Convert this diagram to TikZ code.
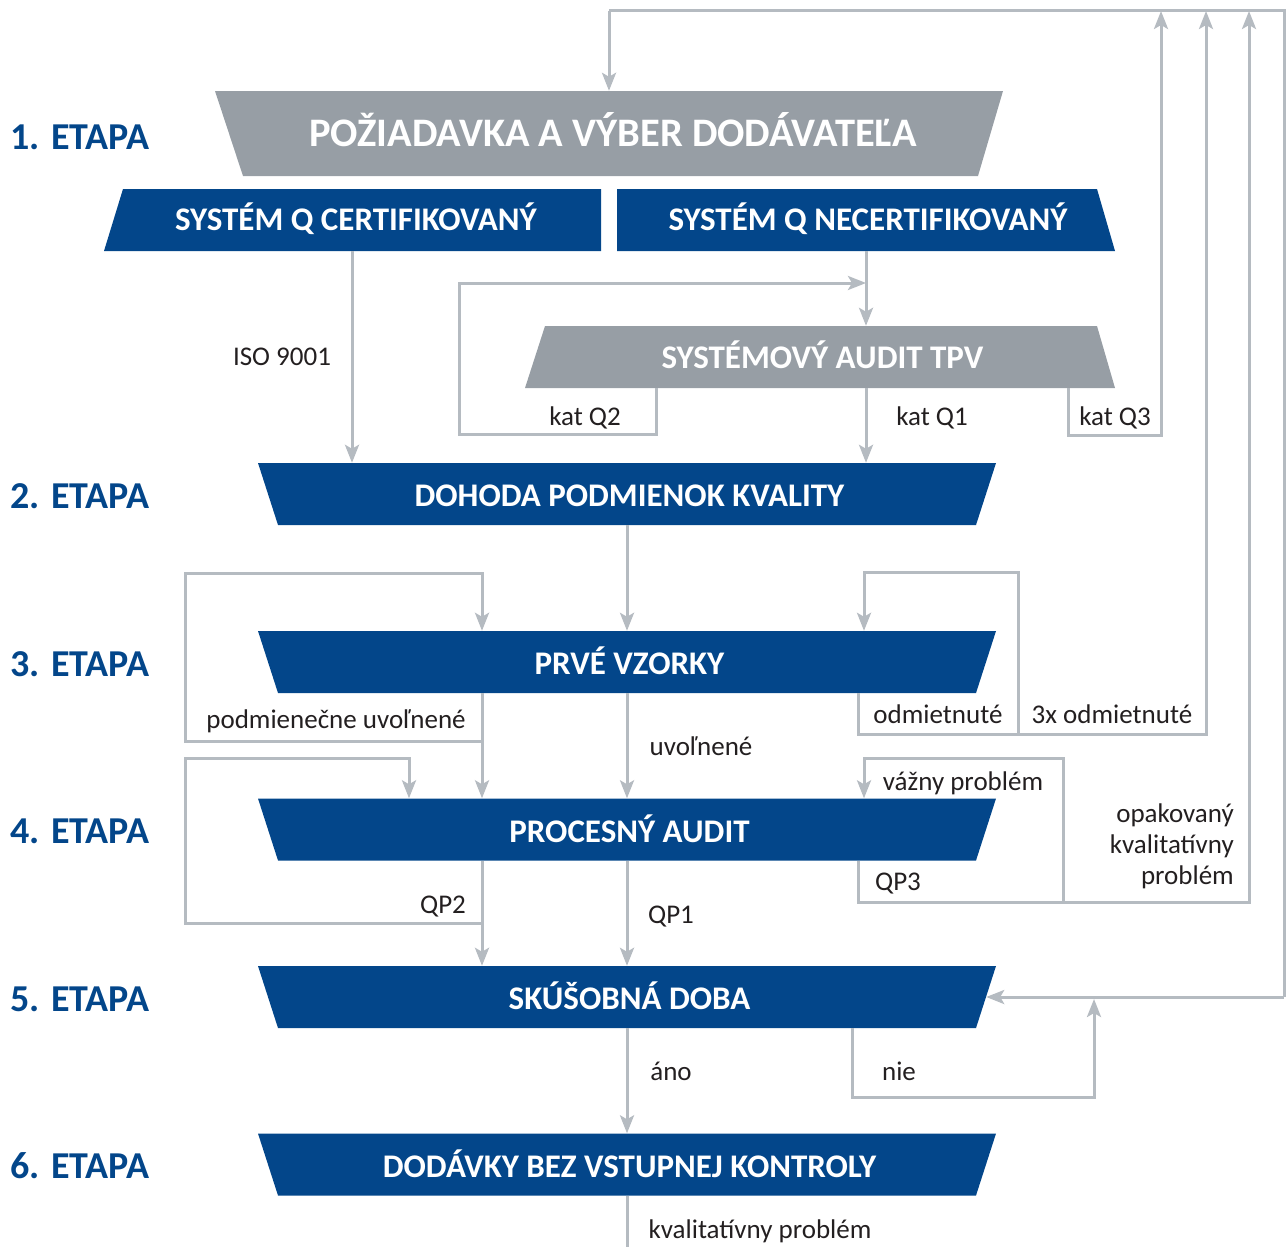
\documentclass[tikz,border=0pt]{standalone}
\usepackage{fontspec}
\setmainfont{Carlito}
\usetikzlibrary{arrows.meta}
\definecolor{qblue}{HTML}{03468A}
\definecolor{qgray}{HTML}{979EA5}
\definecolor{qline}{HTML}{B5BBC1}
\definecolor{qtext}{HTML}{231F20}
\tikzset{
  conn/.style={draw=qline, line width=3pt},
  arr/.style={conn, -{Stealth[length=18pt,width=14pt,inset=4pt]}},
  boxtext/.style={text=white, font=\bfseries\fontsize{33}{36}\selectfont, inner sep=0pt, text height=21pt, text depth=0pt},
  lbl/.style={text=qtext, font=\fontsize{27}{31}\selectfont, inner sep=0pt, anchor=base},
  etapa/.style={text=qblue, font=\bfseries\fontsize{38}{41}\selectfont, inner sep=0pt, anchor=base west},
}
\newcommand\stagebox[3]{%
  \fill[qblue] (258,#2-31) -- (996,#2-31) -- (976,#2+31) -- (278,#2+31) -- cycle;
  \node[boxtext, text height=25pt, minimum width=738pt, minimum height=62pt] (#1) at (627,#2) {\hspace*{5pt}#3};
}
\begin{document}
\begin{tikzpicture}[x=1pt,y=-1pt]
\useasboundingbox (0,0) rectangle (1287,1247);

% ---- boxes ----
\fill[qgray] (215,91) -- (1003,91) -- (978,176) -- (243,176) -- cycle;
\node[text=white, font=\bfseries\fontsize{40.5}{44}\selectfont, inner sep=0pt, minimum width=788pt, minimum height=85pt, text height=26pt, text depth=0pt] (ziad) at (609,133.5) {\hspace*{8pt}POŽIADAVKA A VÝBER DODÁVATEĽA};

\fill[qblue] (123,189) -- (601,189) -- (601,251) -- (104,251) -- cycle;
\node[boxtext, minimum width=497pt, minimum height=62pt] (cert) at (354,220) {\hspace*{4pt}SYSTÉM Q CERTIFIKOVANÝ};

\fill[qblue] (617,189) -- (1097,189) -- (1115,251) -- (617,251) -- cycle;
\node[boxtext, minimum width=498pt, minimum height=62pt] (necert) at (866,220) {\hspace*{4pt}SYSTÉM Q NECERTIFIKOVANÝ};

\fill[qgray] (545,326) -- (1097,326) -- (1115,388) -- (525,388) -- cycle;
\node[boxtext, text height=23pt, minimum width=590pt, minimum height=62pt] (audit) at (820,357) {\hspace*{5pt}SYSTÉMOVÝ AUDIT TPV};

\stagebox{dohoda}{494}{DOHODA PODMIENOK KVALITY}
\stagebox{prve}{662}{PRVÉ VZORKY}
\stagebox{proc}{829.5}{PROCESNÝ AUDIT}
\stagebox{skusob}{997}{SKÚŠOBNÁ DOBA}
\stagebox{dodavky}{1164.5}{DODÁVKY BEZ VSTUPNEJ KONTROLY}

% ---- stage labels ----
\node[etapa] (e1) at (10,149) {1. ETAPA};
\node[etapa] (e2) at (10,508) {2. ETAPA};
\node[etapa] (e3) at (10,676) {3. ETAPA};
\node[etapa] (e4) at (10,843) {4. ETAPA};
\node[etapa] (e5) at (10,1011) {5. ETAPA};
\node[etapa] (e6) at (10,1178) {6. ETAPA};

% ---- connectors ----
\coordinate (topR) at (1284,11);
\coordinate (topL) at (609,11);
\draw[conn] (topL) -- (topR) -- (1284,997);
\draw[arr] (topL) -- (ziad.north);
\draw[arr] (1284,997) -- ([xshift=-10pt]skusob.east);

\draw[arr] (352,0 |- cert.south) -- (352,0 |- dohoda.north);
\draw[arr] (necert.south) -- (necert.south |- audit.north);

\draw[arr] (656,0 |- audit.south) -- (656,434) -- (459,434) -- (459,283) -- (866,283);
\draw[arr] (866,0 |- audit.south) -- (866,0 |- dohoda.north);
\draw[arr] (1068,0 |- audit.south) -- (1068,435) -- (1161,435) -- (1161,11);

\draw[arr] (dohoda.south) -- (prve.north);
\draw[arr] (482,0 |- prve.south) -- (482,0 |- proc.north);
\draw[arr] (482,741) -- (185,741) -- (185,573) -- (482,573) -- (482,0 |- prve.north);
\draw[arr] (prve.south) -- (proc.north);
\draw[arr] (858,0 |- prve.south) -- (858,734) -- (1206,734) -- (1206,11);
\draw[arr] (1018,734) -- (1018,572) -- (864,572) -- (864,0 |- prve.north);

\draw[arr] (482,0 |- proc.south) -- (482,0 |- skusob.north);
\draw[arr] (482,923) -- (185,923) -- (185,758) -- (409,758) -- (409,0 |- proc.north);
\draw[arr] (proc.south) -- (skusob.north);
\draw[arr] (858,0 |- proc.south) -- (858,902) -- (1249,902) -- (1249,11);
\draw[arr] (1063,902) -- (1063,758) -- (864,758) -- (864,0 |- proc.north);

\draw[arr] (skusob.south) -- (dodavky.north);
\draw[arr] (852,0 |- skusob.south) -- (852,1097) -- (1094,1097) -- (1094,999);
\coordinate (bottomEnd) at (627,1247);
\draw[conn] (dodavky.south) -- (bottomEnd);

% ---- connector labels ----
\node[lbl] (iso) at (282,365) {ISO 9001};
\node[lbl] (q2) at (585,425) {kat Q2};
\node[lbl] (q1) at (932,425) {kat Q1};
\node[lbl] (q3) at (1115,425) {kat Q3};
\node[lbl] (podm) at (336,728) {podmienečne uvoľnené};
\node[lbl] (uvol) at (701,755) {uvoľnené};
\node[lbl] (odm) at (938,723) {odmietnuté};
\node[lbl] (odm3) at (1112,723) {3x odmietnuté};
\node[lbl] (vazny) at (963,790) {vážny problém};
\node[lbl, anchor=east, align=right] (opak) at (1234,846) {opakovaný\\kvalitatívny\\problém};
\node[lbl] (qp3) at (898,890) {QP3};
\node[lbl] (qp2) at (443,913) {QP2};
\node[lbl] (qp1) at (671,923) {QP1};
\node[lbl] (ano) at (671,1080) {áno};
\node[lbl] (nie) at (899,1080) {nie};
\node[lbl] (kval) at (760,1238) {kvalitatívny problém};
\end{tikzpicture}
\end{document}
